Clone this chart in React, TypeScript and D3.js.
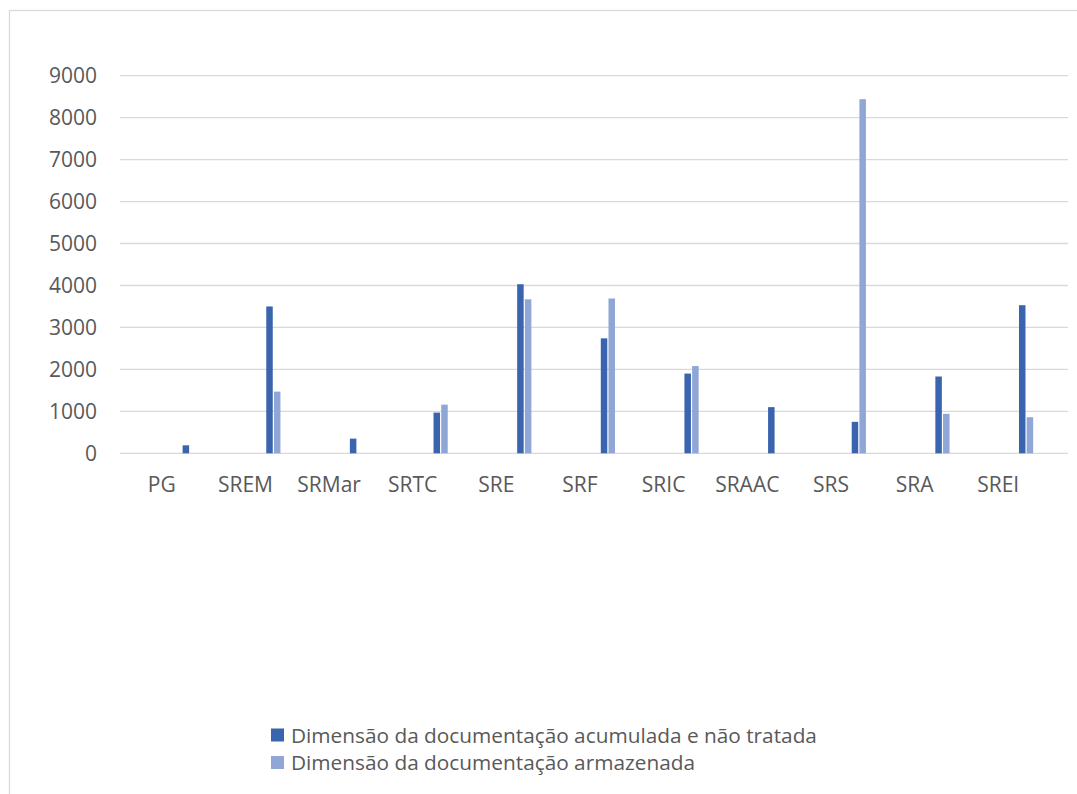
import React from "react";
import * as d3 from "d3";

const categories = ["PG", "SREM", "SRMar", "SRTC", "SRE", "SRF", "SRIC", "SRAAC", "SRS", "SRA", "SREI"];
const seriesNames = [
  "Dimensão da documentação acumulada e não tratada",
  "Dimensão da documentação armazenada",
];
const accumulated = [190, 3500, 350, 970, 4030, 2740, 1900, 1100, 750, 1830, 3530];
const stored = [0, 1470, 0, 1160, 3670, 3690, 2080, 0, 8440, 940, 860];
const yTickValues = [0, 1000, 2000, 3000, 4000, 5000, 6000, 7000, 8000, 9000];
const colors = ["#3A64AE", "#8FA6D6"];

const W = 1077;
const H = 794;
const FONT = "'Open Sans', 'Noto Sans', sans-serif";
const TEXT = "#595959";

export default function App() {
  const x = d3.scaleBand<string>().domain(categories).range([120, 1040]).paddingInner(0).paddingOuter(0);
  const y = d3.scaleLinear().domain([0, 9000]).range([453.3, 75.7]);
  const sub = d3.scaleBand<string>().domain(seriesNames).range([20.2, 20.2 + 2 * 7.7]);
  const values = [accumulated, stored];
  const gridX0 = 120;
  const gridX1 = 1068;

  return (
    <svg
      width={W}
      height={H}
      style={{ position: "absolute", left: 0, top: 0, background: "#fff" }}
      fontFamily={FONT}
    >
      <rect x={9.5} y={10.5} width={1200} height={900} fill="#fff" stroke="#d9d9d9" strokeWidth={1.3} />
      {yTickValues.map((t) => (
        <g key={t}>
          <line x1={gridX0} x2={gridX1} y1={y(t)} y2={y(t)} stroke="#d9d9d9" strokeWidth={1.3} />
          <text x={97} y={y(t)} dy="0.36em" textAnchor="end" fontSize={21} fill={TEXT}>
            {t}
          </text>
        </g>
      ))}
      {seriesNames.map((s, si) =>
        categories.map((c, ci) => {
          const v = values[si][ci];
          if (!v) return null;
          const cx = (x(c) as number) + x.bandwidth() / 2;
          const bx = cx + (sub(s) as number) + 0.6;
          return (
            <rect
              key={s + c}
              x={bx}
              y={y(v)}
              width={sub.bandwidth() - 1.2}
              height={y(0) - y(v)}
              fill={colors[si]}
            />
          );
        })
      )}
      {categories.map((c) => (
        <text
          key={c}
          x={(x(c) as number) + x.bandwidth() / 2}
          y={484}
          dy="0.36em"
          textAnchor="middle"
          fontSize={21}
          fill={TEXT}
        >
          {c}
        </text>
      ))}
      {seriesNames.map((s, i) => (
        <g key={s} transform={`translate(271, ${735 + i * 27.5})`}>
          <rect x={0} y={-6.5} width={13} height={13} fill={colors[i]} />
          <text x={20} y={0} dy="0.36em" fontSize={20.8} fill={TEXT}>
            {s}
          </text>
        </g>
      ))}
    </svg>
  );
}
